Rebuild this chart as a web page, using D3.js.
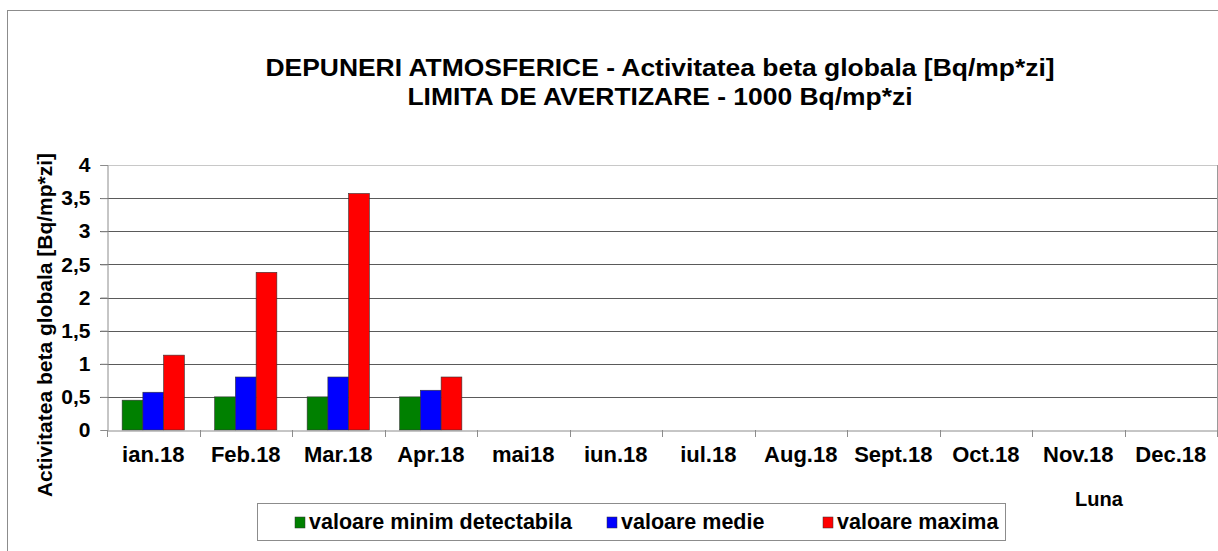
<!DOCTYPE html>
<html>
<head>
<meta charset="utf-8">
<script src="https://cdn.jsdelivr.net/npm/d3@7"></script>
<style>
  body { margin: 0; background: #fff; }
  text { font-family: Arial, "Liberation Sans", sans-serif; font-weight: bold; fill: #000; }
</style>
</head>
<body>
<svg id="chart" width="1218" height="551"></svg>
<script>
var months = ["ian.18", "Feb.18", "Mar.18", "Apr.18", "mai18", "iun.18", "iul.18", "Aug.18", "Sept.18", "Oct.18", "Nov.18", "Dec.18"];
var seriesNames = ["valoare minim detectabila", "valoare medie", "valoare maxima"];
var seriesColors = ["#008000", "#0000ff", "#ff0000"];
var minDetect = [0.45, 0.5, 0.5, 0.5];
var medie = [0.57, 0.8, 0.8, 0.6];
var maxima = [1.13, 2.38, 3.57, 0.8];
var yTicks = [0, 0.5, 1, 1.5, 2, 2.5, 3, 3.5, 4];

var svg = d3.select("#chart");
var plot = { left: 107, right: 1217, top: 165, bottom: 430 };

// outer chart border (runs off the right/bottom edge)
svg.append("rect")
  .attr("x", 7.5).attr("y", 10.5)
  .attr("width", 1230).attr("height", 560)
  .attr("fill", "none").attr("stroke", "#8c8c8c");

// title
var titleLines = [
  { t: "DEPUNERI ATMOSFERICE - Activitatea beta globala [Bq/mp*zi]", y: 76 },
  { t: "LIMITA DE AVERTIZARE - 1000 Bq/mp*zi", y: 105 }
];
titleLines.forEach(function(l) {
  svg.append("g")
    .attr("transform", "translate(660," + l.y + ") scale(1.15,1)")
    .append("text")
    .attr("text-anchor", "middle")
    .style("font-size", "23px")
    .text(l.t);
});

var x0 = d3.scaleBand().domain(months).range([plot.left, plot.right]).padding(0);
var x1 = d3.scaleBand().domain(seriesNames).range([0, x0.bandwidth()]).paddingInner(0).paddingOuter(0.73);
var y = d3.scaleLinear().domain([0, 4]).range([plot.bottom, plot.top]);

// gridlines
svg.append("g").selectAll("line")
  .data(yTicks.filter(function(d) { return d > 0; }))
  .join("line")
  .attr("x1", plot.left - 7).attr("x2", plot.right)
  .attr("y1", function(d) { return Math.round(y(d)) + 0.5; })
  .attr("y2", function(d) { return Math.round(y(d)) + 0.5; })
  .attr("stroke", function(d) { return d === 4 ? "#c8c8c8" : "#5a5a5a"; })
  .attr("stroke-width", 1);

// right border of plot area
svg.append("line")
  .attr("x1", plot.right + 0.5).attr("x2", plot.right + 0.5)
  .attr("y1", plot.top).attr("y2", plot.bottom)
  .attr("stroke", "#9a9a9a");

// bars
var series = [minDetect, medie, maxima];
series.forEach(function(vals, si) {
  svg.append("g").selectAll("rect")
    .data(vals.map(function(v, i) { return { m: months[i], v: v }; }))
    .join("rect")
    .attr("x", function(d) { return x0(d.m) + x1(seriesNames[si]); })
    .attr("width", x1.bandwidth())
    .attr("y", function(d) { return y(d.v); })
    .attr("height", function(d) { return y(0) - y(d.v); })
    .attr("fill", seriesColors[si])
    .attr("stroke", "#333")
    .attr("stroke-width", 0.6);
});

// y axis
var yAxis = svg.append("g")
  .attr("transform", "translate(" + (plot.left + 0.5) + ",0)")
  .call(d3.axisLeft(y).tickValues(yTicks).tickSize(7).tickPadding(10)
    .tickFormat(function(d) { return String(d).replace(".", ","); }));
yAxis.select(".domain").attr("stroke", "#8c8c8c");
yAxis.selectAll(".tick line").attr("stroke", "#8c8c8c");
yAxis.selectAll("text").attr("font-family", null).style("font-size", "21px");

// x axis
var xAxis = svg.append("g")
  .attr("transform", "translate(0," + (plot.bottom + 0.5) + ")")
  .call(d3.axisBottom(x0).tickSize(0).tickPadding(16));
xAxis.select(".domain").attr("stroke", "#8c8c8c");
xAxis.selectAll("text").attr("font-family", null).style("font-size", "22px");
// boundary ticks between categories
svg.append("g").selectAll("line")
  .data(months.concat(["end"]))
  .join("line")
  .attr("x1", function(d) { return d === "end" ? plot.right + 0.5 : Math.round(x0(d)) + 0.5; })
  .attr("x2", function(d) { return d === "end" ? plot.right + 0.5 : Math.round(x0(d)) + 0.5; })
  .attr("y1", plot.bottom).attr("y2", plot.bottom + 7)
  .attr("stroke", "#8c8c8c");

// axis titles
svg.append("text")
  .attr("transform", "translate(52,325) rotate(-90)")
  .attr("text-anchor", "middle")
  .style("font-size", "21px")
  .text("Activitatea  beta globala [Bq/mp*zi]");

svg.append("text")
  .attr("x", 1099).attr("y", 506)
  .attr("text-anchor", "middle")
  .style("font-size", "20px")
  .text("Luna");

// legend
svg.append("rect")
  .attr("x", 257.5).attr("y", 503.5)
  .attr("width", 748).attr("height", 37)
  .attr("fill", "#fff").attr("stroke", "#8c8c8c");
var legendX = [295, 607, 823];
var lg = svg.append("g").selectAll("g")
  .data(seriesNames)
  .join("g")
  .attr("transform", function(d, i) { return "translate(" + legendX[i] + ",517)"; });
lg.append("rect")
  .attr("width", 10).attr("height", 11)
  .attr("fill", function(d, i) { return seriesColors[i]; })
  .attr("stroke", "#333").attr("stroke-width", 0.5);
lg.append("text")
  .attr("x", 14).attr("y", 12)
  .style("font-size", "21.5px")
  .text(function(d) { return d; });
</script>
</body>
</html>
